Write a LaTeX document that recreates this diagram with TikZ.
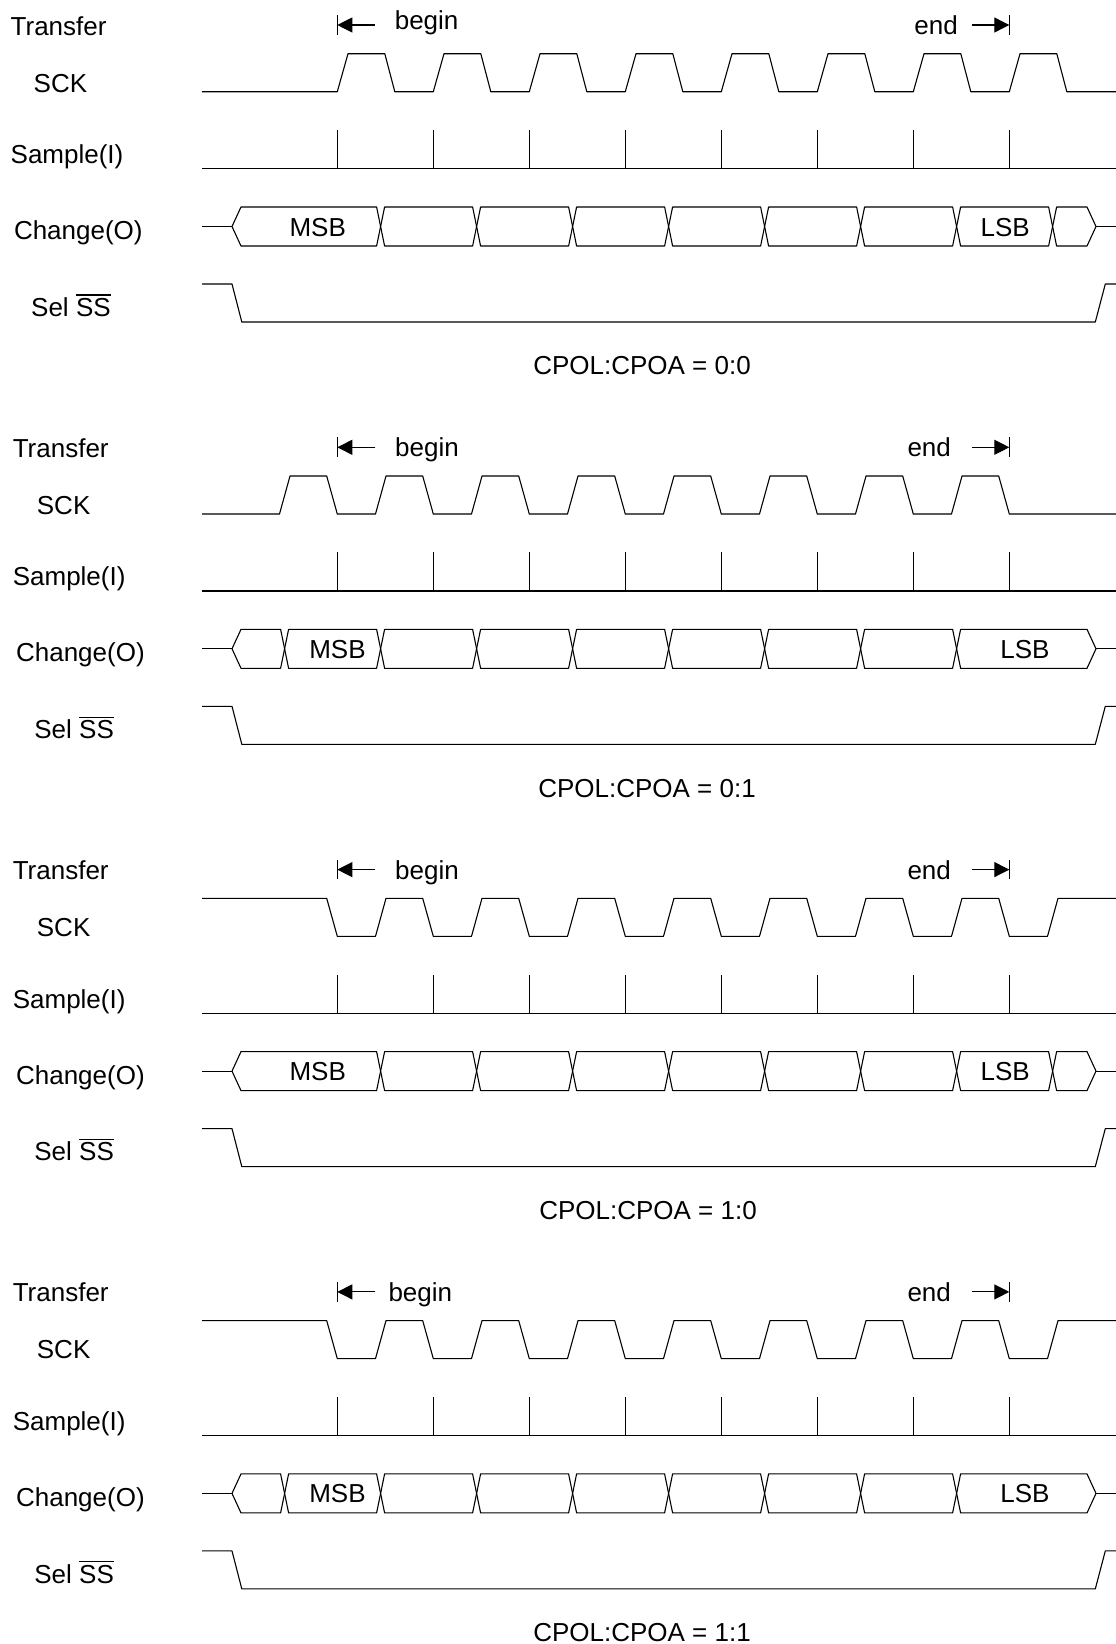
\documentclass[tikz,border=0pt]{standalone}
\usepackage{fontspec}
\setmainfont{Liberation Sans}
\usetikzlibrary{arrows.meta}
\begin{document}
\begin{tikzpicture}[x=1pt,y=-1pt,
  sig/.style={line width=1.1pt, line join=round},
  txt/.style={font=\fontsize{26}{30}\selectfont, inner sep=0pt, anchor=base west},
  ctxt/.style={font=\fontsize{26}{30}\selectfont, inner sep=0pt, anchor=base},
  marker/.style={line width=1.1pt, -{Triangle[length=15pt,width=15pt]}}]
\useasboundingbox (0,0) rectangle (1116,1644);
\fill[white] (0,0) rectangle (1116,1644);
\def\tz{337.3}\def\per{96}
\def\yH{53.7}\def\yL{91.7}
\def\yt{207}\def\ym{226.5}\def\yb{246}
% SCK variants
\def\sckA{\draw[sig] (202,\yL) \foreach \k in {0,...,7}{ -- ({\tz+\per*\k},\yL) -- ({\tz+10.7+\per*\k},\yH) -- ({\tz+47.5+\per*\k},\yH) -- ({\tz+57.5+\per*\k},\yL)} -- (1116,\yL);}
\def\sckB{\draw[sig] (202,\yL) \foreach \k in {0,...,7}{ -- ({\tz-57.8+\per*\k},\yL) -- ({\tz-47.3+\per*\k},\yH) -- ({\tz-10.6+\per*\k},\yH) -- ({\tz+\per*\k},\yL)} -- (1116,\yL);}
\def\sckC{\draw[sig] (202,\yH) -- ({\tz-10.6},\yH) -- (\tz,\yL) \foreach \k in {1,...,7}{ -- ({\tz-57.8+\per*\k},\yL) -- ({\tz-47.3+\per*\k},\yH) -- ({\tz-10.6+\per*\k},\yH) -- ({\tz+\per*\k},\yL)} -- ({\tz-57.8+\per*8},\yL) -- ({\tz-47.3+\per*8},\yH) -- (1116,\yH);}
\foreach \p/\ph/\labx/\sckx/\begx/\begy/\endx/\endy/\capx/\capt in {
 0/0/10.5/33.5/394.6/29.3/914.2/34.3/642/{0:0},
 1/1/12.6/36.7/395/34.4/907.3/34.5/647/{0:1},
 2/2/12.6/36.7/395/34.4/907.3/34.5/648/{1:0},
 3/3/12.6/36.7/388.3/35/907.3/34.5/642/{1:1}}
{
\begin{scope}[shift={(0,\p*422.3)}]
  % labels
  \node[txt] (tr\p) at (\labx,35) {Transfer};
  \node[txt] (sck\p) at (\sckx,92) {SCK};
  \node[txt] (smp\p) at (\labx,163.5) {Sample(I)};
  \node[txt] (chg\p) at ({\labx+3.3},239.5) {Change(O)};
  \node[txt] (sel\p) at ({\sckx-2.5},316.3) {Sel \rlap{\rule[20.8pt]{34.7pt}{1.1pt}}SS};
  \node[txt] (beg\p) at (\begx,\begy) {begin};
  \node[txt] (end\p) at (\endx,\endy) {end};
  \node[ctxt] (cp\p) at (\capx,374.8) {CPOL:CPOA = \capt};
  % begin / end markers
  \coordinate (bb\p) at (337.3,25);
  \coordinate (bs\p) at (375,25);
  \draw[marker] (bs\p) -- (bb\p);
  \draw[sig] (337.3,15) -- (337.3,34.6);
  \coordinate (es\p) at (971.5,25);
  \coordinate (eb\p) at (1009.3,25);
  \draw[marker] (es\p) -- (eb\p);
  \draw[sig] (1009.3,15) -- (1009.3,34.6);
  % SCK
  \ifcase\ph \sckA\or\sckB\or\sckC\or\sckC\fi
  % Sample
  \draw[sig] (202,168.7) -- (1116,168.7);
  \foreach \k in {0,...,7} \draw[sig] ({\tz+\per*\k},130) -- ({\tz+\per*\k},168.7);
  % Change
  \ifodd\ph \def\cs{284.6}\def\mx{337.5}\def\lsx{1025}\else \def\cs{380.6}\def\mx{317.7}\def\lsx{1005.2}\fi
  \draw[sig] (202,\ym) -- (232,\ym);
  \draw[sig] (232,\ym) -- (241,\yt) -- ({\cs-4},\yt) -- (\cs,\ym) -- ({\cs-4},\yb) -- (241,\yb) -- cycle;
  \foreach \k in {0,...,6} \draw[sig] ({\cs+\per*\k},\ym) -- ({\cs+\per*\k+4},\yt) -- ({\cs+\per*\k+\per-4},\yt) -- ({\cs+\per*\k+\per},\ym) -- ({\cs+\per*\k+\per-4},\yb) -- ({\cs+\per*\k+4},\yb) -- cycle;
  \draw[sig] ({\cs+7*\per},\ym) -- ({\cs+7*\per+4},\yt) -- (1087,\yt) -- (1096,\ym) -- (1087,\yb) -- ({\cs+7*\per+4},\yb) -- cycle;
  \draw[sig] (1096,\ym) -- (1116,\ym);
  \node[ctxt] (msb\p) at (\mx,236) {MSB};
  \node[ctxt] (lsb\p) at (\lsx,236) {LSB};
  % Sel
  \draw[sig] (202,284) -- (232,284) -- (241.8,322) -- (1095.3,322) -- (1105.3,284) -- (1116,284);
\end{scope}
}
\end{tikzpicture}
\end{document}
